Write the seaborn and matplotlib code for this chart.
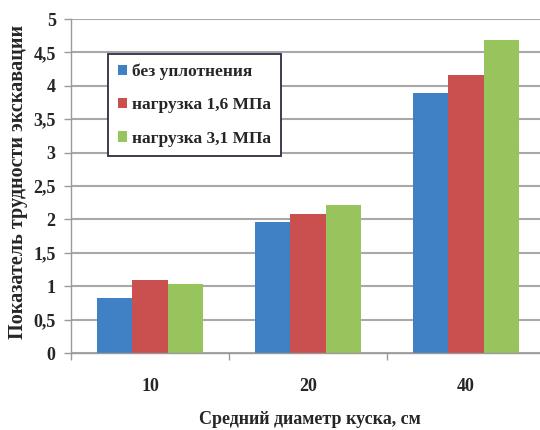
import matplotlib
matplotlib.use("Agg")
import matplotlib.pyplot as plt
from matplotlib.patches import Patch
from matplotlib.ticker import FixedLocator
import seaborn as sns
import pandas as pd

# Mean lump diameter, cm
diameters = ["10", "20", "40"]
series_names = ["без уплотнения", "нагрузка 1,6 МПа", "нагрузка 3,1 МПа"]
no_compaction = [0.82, 1.96, 3.89]
load_1_6 = [1.10, 2.08, 4.16]
load_3_1 = [1.04, 2.22, 4.69]
y_ticks = [0, 0.5, 1, 1.5, 2, 2.5, 3, 3.5, 4, 4.5, 5]
y_tick_labels = ["0", "0,5", "1", "1,5", "2", "2,5", "3", "3,5", "4", "4,5", "5"]

colors = ["#4080C4", "#C9504F", "#98C45D"]

rows = []
for name, vals in zip(series_names, [no_compaction, load_1_6, load_3_1]):
    for d, v in zip(diameters, vals):
        rows.append({"diameter": d, "series": name, "value": v})
df = pd.DataFrame(rows)

sns.set_theme(style="white")
plt.rcParams["font.family"] = ["Liberation Serif", "DejaVu Serif"]
plt.rcParams["font.weight"] = "bold"

fig = plt.figure(figsize=(5.4, 4.3), dpi=100)
ax = fig.add_axes([71 / 540, 77 / 430, 474 / 540, 334 / 430])

sns.barplot(data=df, x="diameter", y="value", hue="series", order=diameters,
            hue_order=series_names, palette=colors, width=0.67, ax=ax,
            legend=False, saturation=1, edgecolor="none", linewidth=0)

ax.set_ylim(0, 5)
ax.set_xlim(-0.5, 2.5)
ax.set_yticks(y_ticks)
ax.set_yticklabels(y_tick_labels, fontsize=13, fontweight="bold")
ax.set_xticks(range(len(diameters)))
ax.set_xticklabels(diameters, fontsize=13, fontweight="bold")
ax.xaxis.set_minor_locator(FixedLocator([-0.5, 0.5, 1.5, 2.5]))
ax.tick_params(axis="x", which="major", length=0, pad=18)
ax.tick_params(axis="x", which="minor", length=5, width=1, color="#9a9a9a",
               direction="out", bottom=True)
ax.tick_params(axis="y", length=5, width=1, color="#9a9a9a", direction="out",
               left=True, pad=6)

ax.grid(axis="y", color="#a8a8a8", linewidth=1.5)
ax.set_axisbelow(True)
for side in ["top", "right"]:
    ax.spines[side].set_visible(False)
for side in ["left", "bottom"]:
    ax.spines[side].set_color("#9a9a9a")
    ax.spines[side].set_linewidth(1)

ax.set_xlabel("Средний диаметр куска, см", fontsize=13, fontweight="bold")
ax.xaxis.set_label_coords(310 / 540, 1 - 420 / 430, transform=fig.transFigure)
ax.xaxis.label.set_va("center")
ax.set_ylabel("Показатель трудности экскавации", fontsize=14.5,
              fontweight="bold")
ax.yaxis.set_label_coords(18 / 540, 1 - 182 / 430, transform=fig.transFigure)
ax.yaxis.label.set_va("center")

handles = [Patch(facecolor=c, edgecolor="none") for c in colors]
leg = fig.legend(handles, series_names, loc="upper left",
                 bbox_to_anchor=(108 / 540, 1 - 54 / 430),
                 bbox_transform=fig.transFigure,
                 frameon=True, fancybox=False, framealpha=1,
                 edgecolor="#2c2c48", handlelength=0.55, handleheight=0.55,
                 handletextpad=0.3, labelspacing=1.0, borderpad=0.55,
                 borderaxespad=0, prop={"size": 12.5, "weight": "bold"})
leg.get_frame().set_linewidth(1.3)

fig.savefig("out.png", dpi=100)
